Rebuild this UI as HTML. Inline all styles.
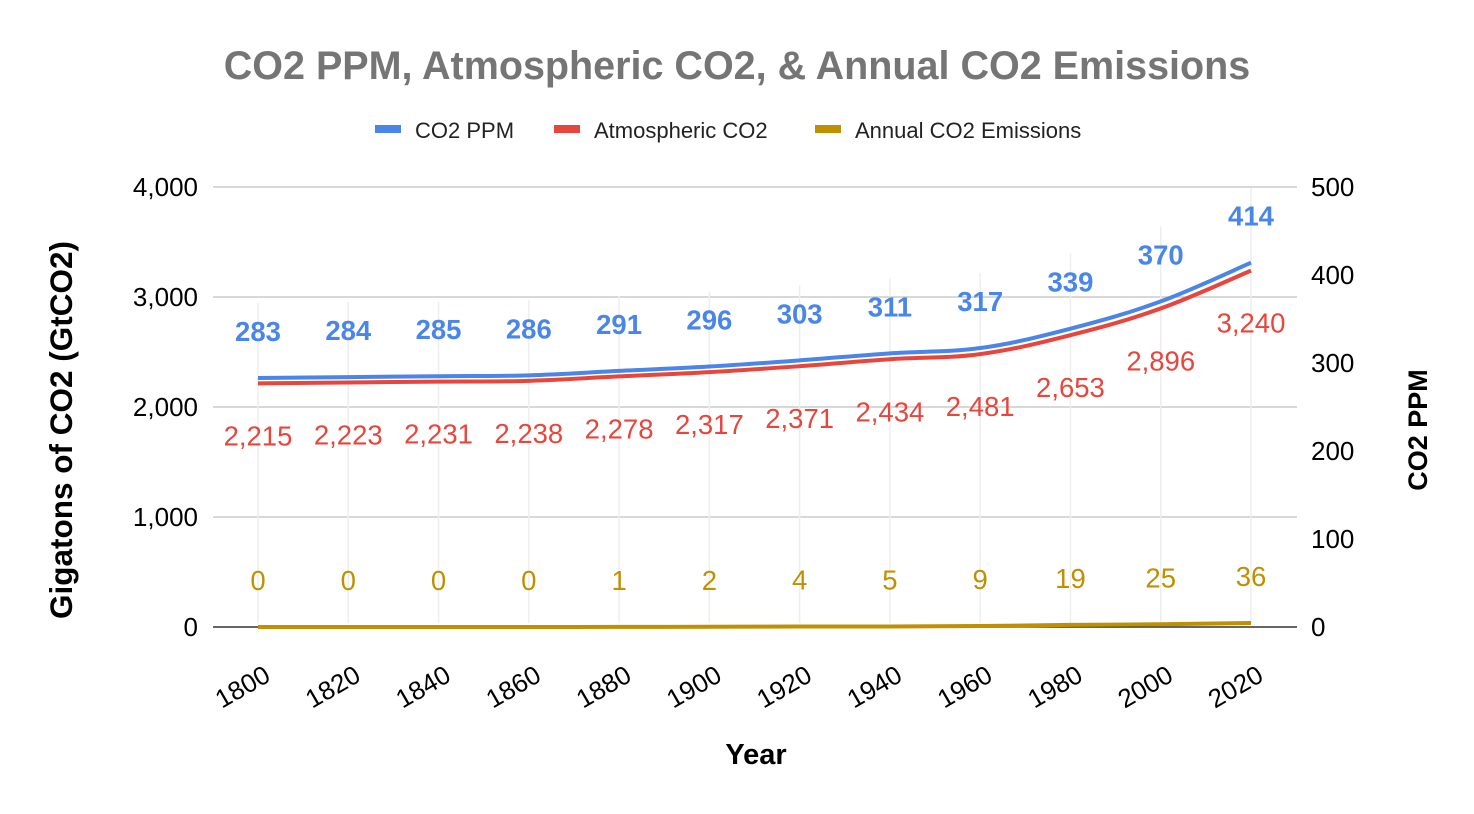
<!DOCTYPE html>
<html><head><meta charset="utf-8">
<style>
body{margin:0;background:#fff;}
svg{display:block;font-family:"Liberation Sans",Arial,sans-serif;}
</style></head>
<body>
<svg id="chart" width="1474" height="814" viewBox="0 0 1474 814">
<text x="737" y="79" text-anchor="middle" font-size="39.5" font-weight="bold" fill="#757575">CO2 PPM, Atmospheric CO2, &amp; Annual CO2 Emissions</text>
<g>
<g><rect x="375" y="125" width="26" height="8" fill="#4a86e8"/><text x="415" y="138" font-size="22" fill="#222">CO2 PPM</text></g>
<g><rect x="554" y="125" width="26" height="8" fill="#e8453c"/><text x="594" y="138" font-size="22" fill="#222">Atmospheric CO2</text></g>
<g><rect x="815" y="125" width="26" height="8" fill="#bf9000"/><text x="855" y="138" font-size="22" fill="#222">Annual CO2 Emissions</text></g>
</g>
<g id="grid"></g>
<g id="axes"></g>
<g id="series"></g>
<g id="labels"></g>
<text transform="translate(72,430) rotate(-90)" text-anchor="middle" font-size="31.5" font-weight="bold" fill="#000">Gigatons of CO2 (GtCO2)</text>
<text transform="translate(1427,430) rotate(-90)" text-anchor="middle" font-size="27" font-weight="bold" fill="#000">CO2 PPM</text>
<text x="756" y="764" text-anchor="middle" font-size="29" font-weight="bold" fill="#000">Year</text>
</svg>
<script>
const years=[1800,1820,1840,1860,1880,1900,1920,1940,1960,1980,2000,2020];
const ppm=[283,284,285,286,291,296,303,311,317,339,370,414];
const atmo=[2215,2223,2231,2238,2278,2317,2371,2434,2481,2653,2896,3240];
const emis=[0,0,0,0,1,2,4,5,9,19,25,36];
const leftTicks=[0,1000,2000,3000,4000];
const rightTicks=[0,100,200,300,400,500];
const NS="http://www.w3.org/2000/svg";
const X0=258,X1=1251,PL=213,PR=1297,YB=627,YT=187;
const xs=y=>X0+(y-years[0])/(years[years.length-1]-years[0])*(X1-X0);
const yl=v=>YB-v/4000*(YB-YT);
const yr=v=>YB-v/500*(YB-YT);
function mk(tag,attrs,parent){const e=document.createElementNS(NS,tag);for(const k in attrs)e.setAttribute(k,attrs[k]);parent.appendChild(e);return e;}
const grid=document.getElementById('grid'),axes=document.getElementById('axes'),series=document.getElementById('series'),labels=document.getElementById('labels');
leftTicks.forEach(t=>{
  if(t>0){const l=mk('line',{x1:PL,x2:PR,y1:yl(t),y2:yl(t),stroke:'#ccc','stroke-width':1.5},grid);
  
  }
  const tx=mk('text',{x:198,y:yl(t)+9,'text-anchor':'end','font-size':26,fill:'#000'},axes);tx.textContent=t.toLocaleString('en-US');
  
  
});
rightTicks.forEach(t=>{
  const tx=mk('text',{x:1311,y:yr(t)+9,'font-size':26,fill:'#000'},axes);tx.textContent=t;
  
  
});
years.forEach(y=>{
  const l=mk('line',{x1:xs(y),x2:xs(y),y1:YB-4,y2:yr(ppm[years.indexOf(y)])-75,stroke:'#eee','stroke-width':1.5},grid);
  
  
  const tx=mk('text',{transform:`translate(${xs(y)+14},${YB+53}) rotate(-30)`,'text-anchor':'end','font-size':26,fill:'#000'},axes);tx.textContent=y;
  
  
});
const base=mk('line',{x1:PL,x2:PR,y1:YB,y2:YB,stroke:'#333','stroke-width':1.5},axes);


function smooth(pts){let d=`M${pts[0][0]},${pts[0][1]}`;for(let i=0;i<pts.length-1;i++){const p0=pts[Math.max(0,i-1)],p1=pts[i],p2=pts[i+1],p3=pts[Math.min(pts.length-1,i+2)];const t=0.18;d+=` C${p1[0]+(p2[0]-p0[0])*t},${p1[1]+(p2[1]-p0[1])*t} ${p2[0]-(p3[0]-p1[0])*t},${p2[1]-(p3[1]-p1[1])*t} ${p2[0]},${p2[1]}`;}return d;}
function draw(vals,fy,color,name,dy,bold,fmt){
  const p=mk('path',{d:smooth(vals.map((v,i)=>[xs(years[i]),fy(v)])),fill:'none',stroke:color,'stroke-width':4},series);
  
  
  vals.forEach((v,i)=>{const t=mk('text',{x:xs(years[i]),y:fy(v)+dy,'text-anchor':'middle','font-size':27.5,fill:color,'font-weight':bold?'bold':'normal'},labels);t.textContent=fmt(v);
  
  });
}
draw(emis,yl,'#bf9000','emissions',-37,false,v=>v);
draw(atmo,yl,'#e8453c','atmospheric',62,false,v=>v.toLocaleString('en-US'));
draw(ppm,yr,'#4a86e8','ppm',-37,true,v=>v);
</script>
</body></html>
